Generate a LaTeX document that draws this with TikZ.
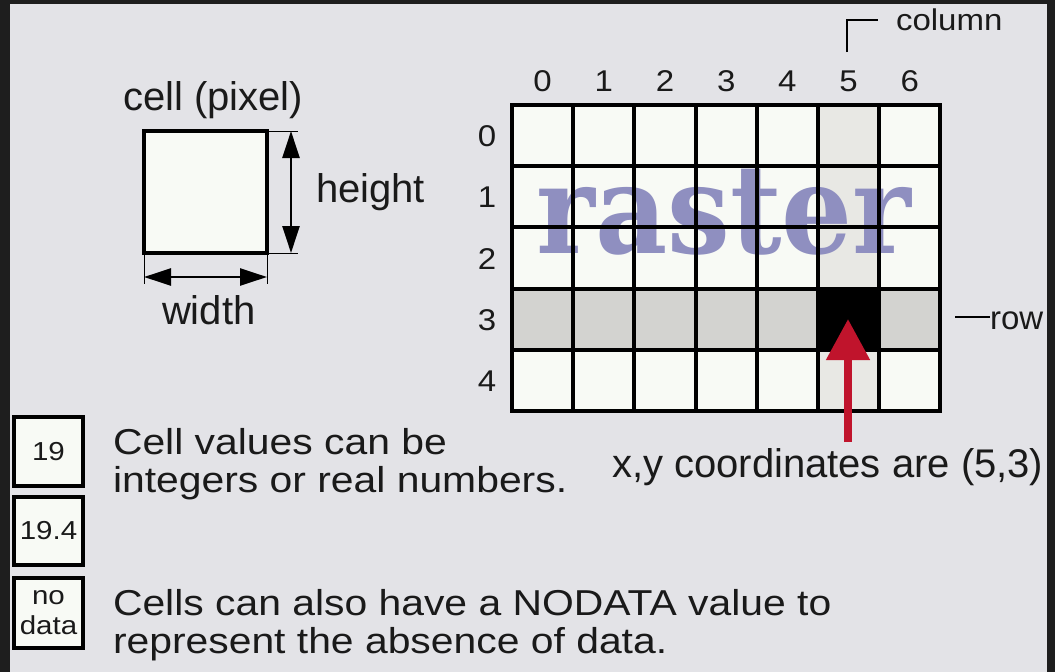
\documentclass[tikz,border=0pt]{standalone}
\usepackage{fontspec}
\setmainfont{Liberation Sans}
\newfontfamily\widefont[FakeStretch=1.135]{Liberation Sans}
\newfontfamily\digitfont[FakeStretch=1.1]{Liberation Sans}
\newfontfamily\rasterfont{DejaVu Serif Condensed}
\usetikzlibrary{arrows.meta}
\definecolor{framec}{HTML}{1E1E1E}
\definecolor{bgc}{HTML}{E3E3E7}
\definecolor{cellw}{HTML}{F8FAF5}
\definecolor{coll}{HTML}{E8E8E4}
\definecolor{rowg}{HTML}{D3D3D0}
\definecolor{arrowred}{HTML}{C0142C}
\definecolor{lav}{HTML}{8F8FC0}
\definecolor{ink}{HTML}{1A1A1A}
\tikzset{
  lbl/.style={inner sep=0pt, outer sep=0pt, text=ink, font=\fontsize{40}{46}\selectfont},
  widelbl/.style={inner sep=0pt, outer sep=0pt, text=ink, font=\widefont\fontsize{36}{38}\selectfont, align=left},
  digit/.style={inner sep=0pt, outer sep=0pt, text=ink, font=\digitfont\fontsize{30}{32}\selectfont},
  valbox/.style={draw=black, fill=cellw, line width=3.5pt, minimum width=69pt, minimum height=69pt, inner sep=0pt, outer sep=0pt, text=ink, font=\widefont\fontsize{26}{28}\selectfont, align=center},
  cellbox/.style={draw=black, fill=cellw, line width=4pt, minimum width=123pt, minimum height=122pt, inner sep=0pt, outer sep=0pt},
  dimarrow/.style={line width=2.5pt, {Triangle[width=17pt,length=27pt]}-{Triangle[width=17pt,length=27pt]}},
  thin/.style={line width=1pt},
  gridline/.style={line width=4pt, line cap=rect},
}
\begin{document}
\begin{tikzpicture}[x=1pt,y=-1pt]
\fill[framec] (0,0) rectangle (1055,672);
\fill[bgc] (10,4) rectangle (1047,672);
\useasboundingbox (0,0) rectangle (1055,672);

% ---- single cell ----
\node[lbl, anchor=base west] (celltitle) at (123,110) {cell (pixel)};
\node[cellbox, anchor=north west] (cell) at (144,131) {};
\coordinate (hx1) at (291,131);
\coordinate (hx2) at (291,253);
\draw[thin] (cell.north east) -- (298,131);
\draw[thin] (cell.south east) -- (298,253);
\draw[dimarrow] (hx1) -- (hx2);
\node[lbl, anchor=base west] (heightlbl) at (316,202) {height};
\draw[thin] (cell.south west) -- (144,284);
\draw[thin] (cell.south east) -- (267,284);
\coordinate (wx1) at (144,277);
\coordinate (wx2) at (267,277);
\draw[dimarrow] (wx1) -- (wx2);
\node[lbl, anchor=base west] (widthlbl) at (162,324) {width};

% ---- raster grid ----
\def\cs{61.2}
\foreach \c in {0,...,6} {
  \foreach \r in {0,...,4} {
    \fill[cellw] ({512+\c*\cs},{105+\r*\cs}) rectangle ++(\cs,\cs);
  }
}
\foreach \r in {0,1,2,4} {
  \fill[coll] ({512+5*\cs},{105+\r*\cs}) rectangle ++(\cs,\cs);
}
\foreach \c in {0,1,2,3,4,6} {
  \fill[rowg] ({512+\c*\cs},{105+3*\cs}) rectangle ++(\cs,\cs);
}
\fill[black] ({512+5*\cs},{105+3*\cs}) rectangle ++(\cs,\cs);
\node[inner sep=0pt, anchor=base, text=lav, font=\rasterfont\bfseries\fontsize{124}{130}\selectfont] (rasterword) at (724,253) {raster};
\foreach \c in {0,...,7} {
  \draw[gridline] ({512+\c*\cs},105) -- ({512+\c*\cs},{105+5*\cs});
}
\foreach \r in {0,...,5} {
  \draw[gridline] (512,{105+\r*\cs}) -- ({512+7*\cs},{105+\r*\cs});
}
\foreach \c in {0,...,6} {
  \node[digit, anchor=base] (col\c) at ({512+\c*\cs+\cs/2},91) {\c};
}
\foreach \r in {0,...,4} {
  \node[digit, anchor=base] (row\r) at (487,{105+\r*\cs+\cs/2+11}) {\r};
}

% ---- column / row labels ----
\node[digit, anchor=base west] (columnlbl) at (896,30) {column};
\coordinate (colb1) at (847,52);
\coordinate (colb2) at (847,20);
\coordinate (colb3) at (878,20);
\draw[line width=1.5pt] (colb1) -- (colb2) -- (colb3);
\node[inner sep=0pt, outer sep=0pt, text=ink, font=\fontsize{33}{38}\selectfont, anchor=base west] (rowlbl) at (990,329) {row};
\coordinate (rowl) at (955,317);
\draw[line width=1.5pt] (rowl) -- (rowlbl.west |- rowl);

% ---- red arrow ----
\coordinate (arrowtail) at (848,442);
\coordinate (arrowtip) at (848,319);
\draw[arrowred, line width=8pt, -{Triangle[width=42pt,length=41pt]}] (arrowtail) -- (arrowtip);
\node[lbl, anchor=base west] (xylbl) at (612,477) {x,y coordinates are (5,3)};

% ---- value boxes ----
\node[valbox, anchor=north west] (v1) at (14,417) {19};
\node[valbox, anchor=north west, minimum height=68pt] (v2) at (14,497) {19.4};
\node[valbox, anchor=north west, minimum height=70pt, font=\widefont\fontsize{26}{30}\selectfont] (v3) at (14,578) {no\\data};

\node[widelbl, anchor=base west] (txt1) at (113,454) {Cell values can be};
\node[widelbl, anchor=base west] (txt2) at (113,492) {integers or real numbers.};
\node[widelbl, anchor=base west] (txt3) at (113,615) {Cells can also have a NODATA value to};
\node[widelbl, anchor=base west] (txt4) at (113,653) {represent the absence of data.};
\end{tikzpicture}
\end{document}
